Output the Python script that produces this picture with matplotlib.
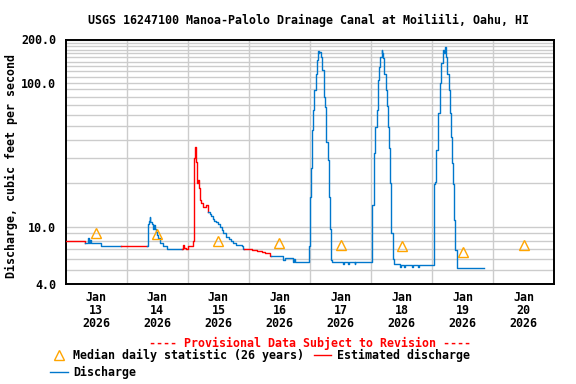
import matplotlib
matplotlib.use('Agg')
import matplotlib.pyplot as plt
from matplotlib.lines import Line2D

# --- Data (hours since Jan 13 2026 00:00) ---
hours = [0, 7.6, 8.6, 9.0, 9.4, 9.8, 14.0, 21.6, 31.9, 32.2, 32.7, 33.0, 33.3, 33.8,
         34.4, 34.8, 35.1, 35.65, 36.0, 36.4, 37.2, 38.3, 39.8, 45.7, 46.1, 46.5,
         47.2, 48.1, 49.0, 50.0, 50.3, 50.6, 50.9, 51.3, 51.6, 52.1, 52.4, 52.9,
         53.3, 53.9, 55.2, 55.8, 56.1, 56.7, 57.1, 57.9, 58.4, 59.2, 59.7, 60.5,
         61.4, 62.0, 62.8, 64.0, 64.9, 65.9, 67.0, 69.2, 69.6, 70.1, 71.8, 73.1,
         75.1, 77.1, 78.4, 80.3, 80.6, 85.3, 85.5, 86.0, 89.4, 89.8, 90.3, 95.3,
         95.7, 96.1, 96.4, 96.8, 97.3, 97.7, 98.2, 98.6, 99.0, 99.2, 99.4, 99.6,
         100.2, 100.6, 101.4, 101.9, 102.3, 102.9, 103.3, 103.8, 104.2, 104.6,
         109.0, 109.4, 111.0, 111.3, 113.5, 113.8, 120.2, 121.2, 121.7, 122.2,
         122.8, 123.1, 123.7, 124.1, 124.3, 124.5, 125.1, 125.8, 126.3, 126.7,
         127.1, 127.5, 128.0, 128.6, 129.0, 131.5, 131.8, 133.0, 133.4, 136.0,
         136.4, 138.5, 139.0, 144.6, 145.2, 145.6, 146.3, 147.0, 147.6, 148.2,
         148.6, 148.9, 149.3, 149.8, 150.5, 151.0, 151.4, 151.9, 152.3, 152.7,
         153.1, 153.7, 164.2]
cfs = [8.0, 7.7, 8.3, 7.7, 8.1, 7.7, 7.4, 7.4, 7.4, 10.4, 11.0, 11.7, 10.8, 10.4,
       9.7, 10.3, 9.6, 9.2, 8.7, 8.3, 7.7, 7.35, 7.0, 7.0, 7.45, 7.1,
       7.0, 7.4, 7.4, 8.0, 11.7, 30, 35.9, 28.3, 20, 21.1, 18.6, 15.3,
       14.6, 13.8, 14.1, 13.2, 12.7, 12.2, 11.8, 11.4, 10.9, 10.8, 10.5, 10.0,
       9.5, 9.0, 8.5, 8.2, 7.9, 7.7, 7.5, 7.3, 7.0, 7.0, 6.95, 6.9,
       6.75, 6.67, 6.6, 6.3, 6.25, 6.05, 5.9, 6.05, 5.68, 5.93, 5.68, 5.68,
       7.3, 16.2, 25.4, 47, 64.7, 89, 116, 144, 160, 167, 160, 164,
       152, 123, 80, 67.6, 39, 29, 16.2, 9.7, 5.87, 5.66,
       5.55, 5.66, 5.55, 5.66, 5.55, 5.66, 14.1, 32.4, 49.5, 64.7,
       104.5, 129, 152, 169, 160, 148, 116, 89, 68.5, 49.5,
       35, 20, 9.0, 6.0, 5.5, 5.25, 5.45, 5.25, 5.45, 5.25,
       5.45, 5.25, 5.45, 19.7, 20.5, 34, 61.6, 99, 137, 169,
       160, 176, 152, 116, 89, 61.6, 42, 27.6, 19.7, 11.1,
       6.9, 5.2, 5.2]
# 1 = estimated from this point to the next
estimated = [1, 0, 0, 0, 0, 0, 0, 1, 0, 0, 0, 0, 0, 0,
             0, 0, 0, 0, 0, 0, 0, 0, 0, 1, 1, 1,
             1, 1, 1, 1, 1, 1, 1, 1, 1, 1, 1, 1,
             1, 1, 1, 1, 0, 0, 0, 0, 0, 0, 0, 0,
             0, 0, 0, 0, 0, 0, 0, 0, 0, 1, 1, 1,
             1, 1, 1, 1, 0, 0, 0, 0, 0, 0, 0, 0] + [0] * (len(hours) - 74)

median_hours = [12, 36, 60, 84, 108, 132, 156, 180]
median_cfs = [9.1, 8.9, 8.0, 7.7, 7.5, 7.3, 6.7, 7.5]

day_labels = ['Jan\n13\n2026', 'Jan\n14\n2026', 'Jan\n15\n2026', 'Jan\n16\n2026',
              'Jan\n17\n2026', 'Jan\n18\n2026', 'Jan\n19\n2026', 'Jan\n20\n2026']
y_ticks = [4, 10, 100, 200]
y_tick_labels = ['4.0', '10.0', '100.0', '200.0']
y_grid = [5, 6, 7, 8, 9, 20, 30, 40, 50, 60, 70, 80, 90,
          110, 120, 130, 140, 150, 160, 170, 180, 190]

BLUE = '#0077cc'
RED = '#ff0000'
ORANGE = '#ffa500'
FONT = 'DejaVu Sans Mono'

plt.rcParams['font.family'] = FONT
plt.rcParams['font.weight'] = 'bold'

fig = plt.figure(figsize=(5.76, 3.84), dpi=100)
ax = fig.add_axes([65.7 / 576, 1 - 284 / 384, (554.3 - 65.7) / 576, (284 - 39.5) / 384])

# split series into runs of same status, sharing the boundary point
i = 0
n = len(hours)
while i < n - 1:
    j = i
    while j < n - 1 and estimated[j] == estimated[i]:
        j += 1
    color = RED if estimated[i] else BLUE
    ax.plot(hours[i:j + 1], cfs[i:j + 1], color=color, lw=1.0,
            drawstyle='steps-post', zorder=3)
    i = j

ax.plot(median_hours, median_cfs, linestyle='none', marker='^', markersize=7.5,
        markerfacecolor='none', markeredgecolor=ORANGE, markeredgewidth=1.0, zorder=4)

ax.set_yscale('log')
ax.set_ylim(4, 200)
ax.set_xlim(0, 192)

ax.set_yticks(y_ticks)
ax.set_yticklabels(y_tick_labels)
ax.set_yticks(y_grid, minor=True)
ax.yaxis.set_minor_formatter(plt.NullFormatter())
ax.set_xticks(median_hours)
ax.set_xticklabels(day_labels, linespacing=1.0)
ax.set_xticks([24 * k for k in range(1, 8)], minor=True)

ax.grid(True, which='both', color='#cccccc', lw=1.0, zorder=0)
ax.grid(False, which='major', axis='x')
ax.tick_params(which='both', length=0)
ax.tick_params(axis='y', labelsize=8.4, pad=7)
ax.tick_params(axis='x', labelsize=8.4, pad=5)
for s in ax.spines.values():
    s.set_linewidth(1.4)
ax.set_axisbelow(True)

fig.text(309 / 576, 1 - 20 / 384, 'USGS 16247100 Manoa-Palolo Drainage Canal at Moiliili, Oahu, HI',
         ha='center', va='center', fontsize=8.4, fontweight='bold')
fig.text(11 / 576, 1 - 166 / 384, 'Discharge, cubic feet per second', rotation=90,
         ha='center', va='center', fontsize=8.4, fontweight='bold')
fig.text(310 / 576, 1 - 343 / 384, '---- Provisional Data Subject to Revision ----',
         ha='center', va='center', fontsize=8.4, fontweight='bold', color=RED)

handles = [
    Line2D([], [], linestyle='none', marker='^', markersize=7.5, markerfacecolor='none',
           markeredgecolor=ORANGE, markeredgewidth=1.0),
    Line2D([], [], color=BLUE, lw=1.0),
    Line2D([], [], color=RED, lw=1.0),
]
labels = ['Median daily statistic (26 years)', 'Discharge', 'Estimated discharge']
fig.legend(handles, labels, ncol=2, loc='upper left', bbox_to_anchor=(50 / 576, 1 - 349 / 384),
           frameon=False, prop={'family': FONT, 'weight': 'bold', 'size': 8.4},
           handlelength=1.5, handletextpad=0.5, columnspacing=0.8,
           labelspacing=0.35, borderpad=0, borderaxespad=0)

fig.savefig('out.png', dpi=100)
